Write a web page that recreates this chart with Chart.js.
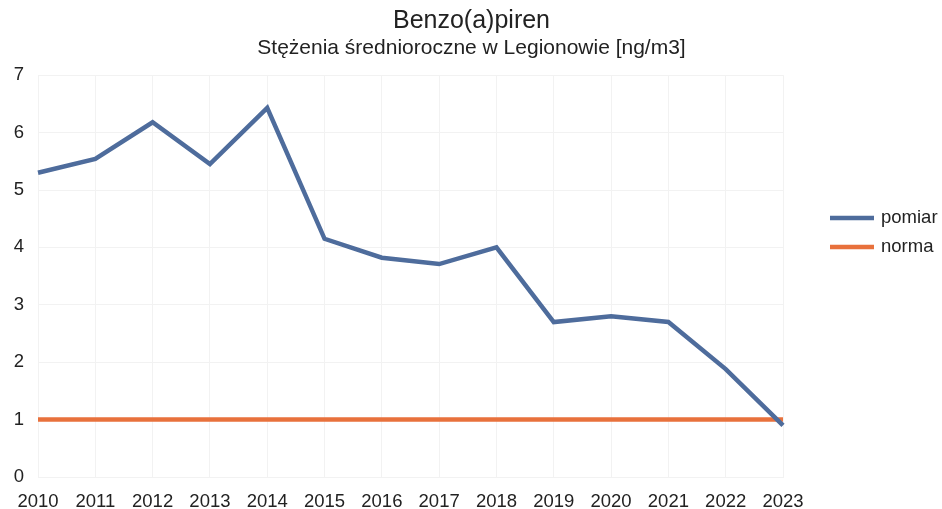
<!DOCTYPE html>
<html><head><meta charset="utf-8">
<script src="https://cdn.jsdelivr.net/npm/chart.js@4"></script>
<style>html,body{margin:0;padding:0;background:#fff}#wrap{width:942px;height:509px}</style>
</head><body><div id="wrap"><canvas id="c"></canvas></div>
<script>
const years = ['2010','2011','2012','2013','2014','2015','2016','2017','2018','2019','2020','2021','2022','2023'];
const pomiar = [5.30,5.54,6.18,5.45,6.43,4.15,3.82,3.71,4.00,2.70,2.80,2.70,1.88,0.90];
const norma = [1,1,1,1,1,1,1,1,1,1,1,1,1,1];
const seriesNames = ['pomiar','norma'];
const titleText = 'Benzo(a)piren';
const subtitleText = 'Stężenia średnioroczne w Legionowie [ng/m3]';
const FONT = "'Liberation Sans', Arial, sans-serif";

const legendPlugin = {
  id: 'sideLegend',
  afterDraw(chart) {
    const ctx = chart.ctx;
    ctx.save();
    chart.data.datasets.forEach((ds, i) => {
      const y = 218 + i * 29;
      ctx.strokeStyle = ds.borderColor;
      ctx.lineWidth = 4.5;
      ctx.beginPath();
      ctx.moveTo(830, y);
      ctx.lineTo(874, y);
      ctx.stroke();
      ctx.fillStyle = '#222';
      ctx.font = '18.5px ' + FONT;
      ctx.textBaseline = 'middle';
      ctx.textAlign = 'left';
      ctx.fillText(ds.label, 881, y);
    });
    ctx.restore();
  }
};

new Chart(document.getElementById('c'), {
  type: 'line',
  data: {
    labels: years,
    datasets: [
      { label: seriesNames[0], data: pomiar, borderColor: '#4e6c9c', borderWidth: 4.5, pointRadius: 0, tension: 0, fill: false },
      { label: seriesNames[1], data: norma, borderColor: '#e8713c', borderWidth: 4.5, pointRadius: 0, tension: 0, fill: false }
    ]
  },
  options: {
    responsive: true,
    maintainAspectRatio: false,
    animation: false,
    layout: { padding: { left: 1, right: 0, top: 0, bottom: 0 } },
    plugins: {
      legend: { display: false },
      tooltip: { enabled: false },
      title: { display: true, text: titleText, color: '#222', font: { family: FONT, size: 25, weight: 'normal' }, padding: { top: 6, bottom: 0 } },
      subtitle: { display: true, text: subtitleText, color: '#222', font: { family: FONT, size: 21, weight: 'normal' }, padding: { top: 0, bottom: 14 } }
    },
    scales: {
      x: {
        offset: false,
        grid: { color: '#f2f2f2', drawTicks: false },
        border: { color: '#f2f2f2' },
        ticks: { color: '#222', font: { family: FONT, size: 18.5 }, padding: 14, maxRotation: 0, autoSkip: false },
        afterFit(s) { s.height = 32; }
      },
      y: {
        min: 0, max: 7,
        grid: { color: '#f2f2f2', drawTicks: false },
        border: { color: '#f2f2f2' },
        ticks: { color: '#222', font: { family: FONT, size: 18.5 }, padding: 14, stepSize: 1 },
        afterFit(s) { s.width = 37; }
      },
      yR: {
        position: 'right',
        display: true,
        grid: { display: false },
        border: { display: false },
        ticks: { display: false },
        afterFit(s) { s.width = 159; }
      }
    }
  },
  plugins: [legendPlugin]
});
</script></body></html>
